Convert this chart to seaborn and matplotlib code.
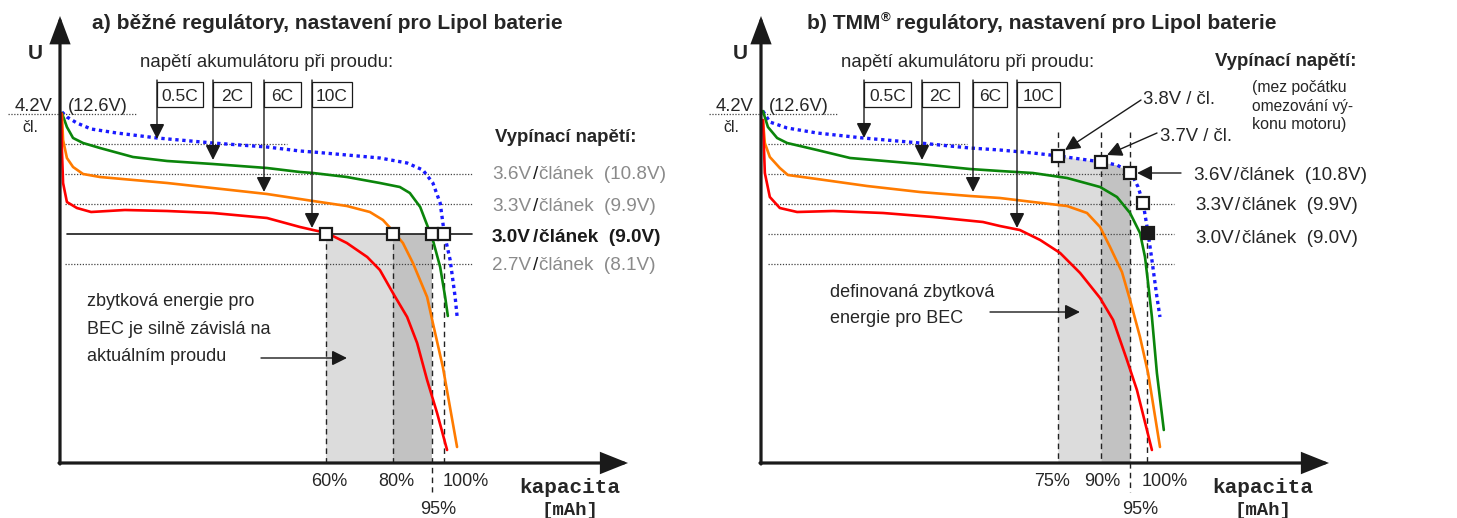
import numpy as np
import pandas as pd
import seaborn as sns
import matplotlib
matplotlib.use("Agg")
import matplotlib.pyplot as plt
from matplotlib import font_manager
from matplotlib.patches import Rectangle

# ------------------------------------------------------------------ data
# discharge curves: capacity [% of nominal] and voltage per cell [V]
rates = ["0.5C", "2C", "6C", "10C"]
rate_colors = ["#1a1aff", "#0b850b", "#ff7b00", "#ff0000"]

# panel a) common regulators
a_cap_05C = [0.5, 1.8, 4.4, 8.1, 14.8, 25.3, 39.8, 53.9, 62.5, 65.9, 74.7, 83.3, 90.4, 94.5, 97.1, 99.0, 100.1, 101.6, 102.9, 103.4]
a_u_05C = [4.22, 4.17, 4.11, 4.05, 4.01, 3.96, 3.91, 3.87, 3.83, 3.82, 3.79, 3.76, 3.71, 3.64, 3.51, 3.31, 3.00, 2.74, 2.37, 2.18]
a_cap_2C = [0.5, 1.8, 3.4, 6.0, 10.4, 19.0, 27.9, 39.8, 53.9, 62.5, 65.9, 74.7, 83.3, 88.5, 91.1, 93.8, 95.8, 97.1, 99.0, 100.3, 101.0]
a_u_2C = [4.21, 4.07, 3.96, 3.91, 3.86, 3.77, 3.73, 3.70, 3.66, 3.62, 3.61, 3.57, 3.51, 3.47, 3.41, 3.27, 3.07, 2.94, 2.67, 2.37, 2.18]
a_cap_6C = [0.5, 0.8, 1.8, 3.4, 6.0, 10.4, 27.9, 53.9, 62.5, 65.9, 74.7, 80.7, 84.1, 86.7, 89.3, 91.9, 95.6, 97.1, 99.7, 103.4]
a_u_6C = [4.20, 3.94, 3.76, 3.67, 3.60, 3.57, 3.51, 3.40, 3.35, 3.33, 3.28, 3.22, 3.14, 3.03, 2.91, 2.71, 2.37, 2.11, 1.67, 0.87]
a_cap_10C = [0.3, 0.5, 0.8, 1.8, 4.4, 8.1, 16.9, 27.9, 39.8, 53.9, 62.5, 65.9, 69.5, 74.7, 80.0, 83.3, 86.7, 90.4, 93.0, 95.6, 98.2, 100.8]
a_u_10C = [4.21, 3.84, 3.51, 3.32, 3.26, 3.22, 3.24, 3.23, 3.21, 3.16, 3.07, 3.04, 3.01, 2.91, 2.77, 2.64, 2.41, 2.17, 1.91, 1.54, 1.21, 0.84]

# panel b) TMM regulators
b_cap_05C = [0.5, 2.3, 6.8, 14.6, 26.6, 41.4, 54.4, 62.2, 70.8, 77.6, 83.1, 88.8, 92.7, 96.4, 98.2, 99.5, 100.8, 101.8, 103.1, 103.9]
b_u_05C = [4.23, 4.12, 4.06, 4.01, 3.96, 3.91, 3.86, 3.84, 3.81, 3.78, 3.75, 3.72, 3.69, 3.61, 3.47, 3.31, 3.01, 2.74, 2.37, 2.17]
b_cap_2C = [0.5, 1.8, 4.2, 6.8, 14.6, 23.2, 41.4, 54.4, 62.2, 70.8, 79.7, 88.3, 92.7, 96.1, 98.7, 100.0, 100.8, 101.8, 103.1, 104.9]
b_u_2C = [4.23, 4.07, 3.96, 3.91, 3.84, 3.76, 3.70, 3.65, 3.63, 3.61, 3.56, 3.47, 3.37, 3.21, 3.01, 2.77, 2.51, 2.17, 1.61, 1.04]
b_cap_6C = [0.5, 1.0, 2.3, 4.9, 7.0, 14.6, 27.6, 41.4, 54.4, 62.2, 70.8, 79.7, 84.9, 88.3, 90.9, 94.0, 96.1, 98.7, 100.8, 103.9]
b_u_6C = [4.14, 3.91, 3.77, 3.66, 3.59, 3.55, 3.48, 3.42, 3.38, 3.36, 3.32, 3.28, 3.21, 3.07, 2.87, 2.62, 2.34, 1.97, 1.61, 0.87]
b_cap_10C = [0.5, 1.0, 2.3, 4.9, 9.4, 18.8, 31.8, 44.8, 57.8, 62.2, 67.4, 72.7, 77.9, 83.1, 88.3, 91.7, 95.3, 97.9, 101.8]
b_u_10C = [4.14, 3.61, 3.37, 3.26, 3.22, 3.23, 3.21, 3.17, 3.12, 3.08, 3.04, 2.94, 2.81, 2.61, 2.36, 2.14, 1.74, 1.44, 0.84]

# remaining capacity at cut-off
a_cut_u = 3.0
a_cut_cap = [69.2, 86.6, 96.9, 100.1]
a_cut_labels = ["60%", "80%", "95%", "100%"]
b_cut_cap = [77.3, 88.5, 96.1, 100.5]
b_cut_labels = ["75%", "90%", "95%", "100%"]
b_mark_cap = [77.3, 88.5, 96.1, 99.5, 100.8]
b_mark_u = [3.78, 3.72, 3.61, 3.31, 3.01]
b_mark_filled = [False, False, False, False, True]

cell_levels = ["3.6V", "3.3V", "3.0V", "2.7V"]
pack_levels = ["(10.8V)", "(9.9V)", "(9.0V)", "(8.1V)"]
guide_u = [3.9, 3.6, 3.3, 3.0, 2.7]

# ------------------------------------------------------------------ setup
sns.set_theme(style="white")
SANS = "Liberation Sans"
MONO = "Liberation Mono"
plt.rcParams["font.family"] = [SANS, "DejaVu Sans"]

W, H = 1457, 518
fig = plt.figure(figsize=(W / 100, H / 100), dpi=100)
fig.patch.set_facecolor("white")
renderer = fig.canvas.get_renderer()

PXU = 3.84                       # pixels per 1 % of capacity


def vy(py):
    return 3.0 + (234.0 - py) / 100.0


def make_axes(left_px, right_px, x0):
    ax = fig.add_axes([left_px / W, 0, (right_px - left_px) / W, 1])
    ax.set_xlim((left_px - x0) / PXU, (right_px - x0) / PXU)
    ax.set_ylim(vy(H), vy(0))
    ax.axis("off")
    ax.patch.set_alpha(0)
    return ax


def put(pieces, x, y, size=12.0, fit=None, ha="left"):
    """place text pieces side by side, y is the visual centre of capitals (px)"""
    objs = []
    for s, kw in pieces:
        kw = dict(kw)
        rel = kw.pop("rel", 1.0)
        dy = kw.pop("dy", 0.0)
        gap = kw.pop("gap", 0.0)
        t = fig.text(0, 0, s, va="baseline", ha="left", **kw)
        objs.append((t, rel, dy, gap))

    def layout(sz):
        for t, rel, _, _ in objs:
            t.set_fontsize(sz * rel)
        ws = [t.get_window_extent(renderer).width for t, _, _, _ in objs]
        return ws, sum(ws) + sum(o[3] for o in objs[1:])

    ws, total = layout(size)
    if fit:
        size = size * fit / total
        ws, total = layout(size)
    x0 = x if ha == "left" else (x - total / 2 if ha == "center" else x - total)
    base = y + 0.358 * size * 100 / 72
    cx = x0
    for i, ((t, rel, dy, gap), w) in enumerate(zip(objs, ws)):
        if i > 0:
            cx += gap
        t.set_position((cx / W, 1 - (base - dy) / H))
        cx += w
    return size


def txt(s, x, y, size=12.0, fit=None, ha="left", **kw):
    return put([(s, kw)], x, y, size, fit, ha)


def arrow(ax, x0, p_from, p_to, ms=23, lw=1.0, hl=0.4, hw=0.2):
    ax.annotate("", xy=((p_to[0] - x0) / PXU, vy(p_to[1])),
                xytext=((p_from[0] - x0) / PXU, vy(p_from[1])),
                arrowprops=dict(arrowstyle=f"-|>,head_length={hl},head_width={hw}",
                                mutation_scale=ms, lw=lw, color="k",
                                shrinkA=0, shrinkB=0, joinstyle="miter"),
                annotation_clip=False, zorder=6)


def hline(ax, x0, u, px_l, px_r, **kw):
    ax.plot([(px_l - x0) / PXU, (px_r - x0) / PXU], [u, u], **kw)


DOT = dict(color="#444444", lw=0.9, ls=(0, (1, 1.3)), zorder=2)
DASH = dict(color="#222222", lw=1.0, ls=(0, (4, 3)), zorder=2)
BOTTOM = vy(463)
NOTE = 13.0          # size of the explanatory notes and % labels


def curves(ax, caps, us):
    for i, (c, u) in enumerate(zip(caps, us)):
        df = pd.DataFrame({"cap": c, "u": u})
        if i == 0:
            sns.lineplot(data=df, x="cap", y="u", ax=ax, sort=False, estimator=None,
                         color=rate_colors[i], lw=2.4, ls=(0, (1, 1.1)),
                         dash_capstyle="butt", zorder=4)
        else:
            sns.lineplot(data=df, x="cap", y="u", ax=ax, sort=False, estimator=None,
                         color=rate_colors[i], lw=1.9, zorder=4)
    ax.set_xlabel("")
    ax.set_ylabel("")


def common(ax, x0, box_px, tips_py, u_px):
    arrow(ax, x0, (x0, 464), (x0, 16), ms=20, lw=2.3, hl=0.8, hw=0.3)
    arrow(ax, x0, (x0 - 1, 463), (x0 + 568, 463), ms=20, lw=2.3, hl=0.8, hw=0.32)
    txt("U", u_px, 52, 15, fit=15, weight="bold")
    txt("napětí akumulátoru při proudu:", x0 + 80, 60, 12, fit=255)
    txt("4.2V", x0 - 45, 104, 12, fit=38)
    txt("(12.6V)", x0 + 8, 104, 12, fit=60)
    txt("čl.", x0 - 38, 126, 12, fit=16)
    hline(ax, x0, 4.2, x0 - 52, x0 + 77, **DOT)
    for lab, (l, r), tip in zip(rates, box_px, tips_py):
        arrow(ax, x0, (l, 80), (l, tip))
        ax.add_patch(Rectangle(((l - x0) / PXU, vy(107)), (r - l) / PXU, 0.25,
                               fc="white", ec="k", lw=0.9, zorder=7))
        txt(lab, (l + r) / 2, 94.5, 12.5, ha="center")


# ------------------------------------------------------------------ titles
tsize = put([("b) TMM", dict(weight="bold")),
             ("®", dict(weight="bold", rel=0.62, dy=8, gap=0.5)),
             ("regulátory, nastavení pro Lipol baterie", dict(weight="bold", gap=5))],
            807, 21, 14, fit=471)
put([("a) běžné regulátory, nastavení pro Lipol baterie", dict(weight="bold"))], 92, 21, tsize)

# ================================================================ panel a
xa = 60
axA = make_axes(0, 700, xa)
a_caps = [a_cap_05C, a_cap_2C, a_cap_6C, a_cap_10C]
a_us = [a_u_05C, a_u_2C, a_u_6C, a_u_10C]

axA.fill_between([a_cut_cap[0], a_cut_cap[1]], BOTTOM, a_cut_u, color="#dcdcdc", lw=0, zorder=1)
axA.fill_between([a_cut_cap[1], a_cut_cap[2]], BOTTOM, a_cut_u, color="#c2c2c2", lw=0, zorder=1)
for c, lab in zip(a_cut_cap, a_cut_labels):
    low = vy(492) if lab == "95%" else BOTTOM
    axA.plot([c, c], [a_cut_u, low], **DASH)

hline(axA, xa, guide_u[0], 65, 287, **DOT)
for u in guide_u[1:]:
    if u == a_cut_u:
        hline(axA, xa, u, 67, 472, color="k", lw=1.2, zorder=2)
    else:
        hline(axA, xa, u, 65, 472, **DOT)

curves(axA, a_caps, a_us)
for c in a_cut_cap:
    axA.plot([c], [a_cut_u], marker="s", ms=8, mfc="white", mec="k", mew=1.6, zorder=8)

common(axA, xa, [(157, 203), (213, 251), (264, 301), (312, 352)], [139, 160, 192, 228], 28)

txt("Vypínací napětí:", 495, 135, 12, fit=142, weight="bold")
GREY = "#8a8a8a"
for cl, pk, y, r in zip(cell_levels, pack_levels, [172, 204, 235, 263], [666, 657, 660, 656]):
    if cl == "3.0V":
        kw = dict(color="k", weight="bold")
        kws = dict(color="k", weight="bold")
    else:
        kw = dict(color=GREY)
        kws = dict(color="k")
    put([(cl, kw), ("/", dict(kws, gap=1.5)), ("článek  " + pk, dict(kw, gap=1.5))], 492, y, 12, fit=r - 492)

for s, y in zip(["zbytková energie pro", "BEC je silně závislá na", "aktuálním proudu"], [300, 328, 355]):
    txt(s, 87, y, NOTE)
arrow(axA, xa, (261, 358), (347, 358))

for c, lab in zip(a_cut_cap, a_cut_labels):
    px = xa + c * PXU
    if lab == "95%":
        txt(lab, px + 6, 508, NOTE, ha="center")
    elif lab == "100%":
        txt(lab, px + 21, 480, NOTE, ha="center")
    else:
        txt(lab, px + 4, 480, NOTE, ha="center")
txt("kapacita", 570, 485, 15, fit=101, ha="center", family=MONO, weight="bold")
txt("[mAh]", 570, 508, 15, fit=57, ha="center", family=MONO, weight="bold")

# ================================================================ panel b
xb = 761
axB = make_axes(700, W, xb)
b_caps = [b_cap_05C, b_cap_2C, b_cap_6C, b_cap_10C]
b_us = [b_u_05C, b_u_2C, b_u_6C, b_u_10C]

for (c0, c1), col in zip([(b_cut_cap[0], b_cut_cap[1]), (b_cut_cap[1], b_cut_cap[2])], ["#dcdcdc", "#c2c2c2"]):
    xs = np.linspace(c0, c1, 40)
    axB.fill_between(xs, BOTTOM, np.interp(xs, b_cap_05C, b_u_05C), color=col, lw=0, zorder=1)
for c, lab in zip(b_cut_cap, b_cut_labels):
    top = b_mark_u[-1] if lab == "100%" else vy(132)
    low = vy(492) if lab == "95%" else BOTTOM
    axB.plot([c, c], [top, low], **DASH)

hline(axB, xb, guide_u[0], 768, 967, **DOT)
hline(axB, xb, guide_u[1], 768, 1125, **DOT)
for u in guide_u[2:]:
    hline(axB, xb, u, 768, 1174, **DOT)

curves(axB, b_caps, b_us)
for c, u, f in zip(b_mark_cap, b_mark_u, b_mark_filled):
    axB.plot([c], [u], marker="s", ms=8 if not f else 8.5, mfc="k" if f else "white",
             mec="k", mew=1.6, zorder=8)

common(axB, xb, [(864, 911), (922, 959), (973, 1007), (1017, 1060)], [138, 160, 192, 228], 733)

txt("Vypínací napětí:", 1215, 59, 12, fit=142, weight="bold")
for s, y, r in zip(["(mez počátku", "omezování vý-", "konu motoru)"], [86, 105, 123], [1347, 1354, 1347]):
    txt(s, 1252, y, 10.5, fit=r - 1252)
txt("3.8V / čl.", 1143, 97, 12, fit=72)
txt("3.7V / čl.", 1160, 134, 12, fit=72)
arrow(axB, xb, (1141, 100), (1065, 150))
arrow(axB, xb, (1157, 133), (1107, 155))
arrow(axB, xb, (1181, 173), (1137, 173))
for cl, pk, y, l, r in zip(cell_levels[:3], pack_levels[:3], [173, 203, 236], [1193, 1195, 1195], [1367, 1358, 1358]):
    put([(cl, {}), ("/", dict(gap=1.5)), ("článek  " + pk, dict(gap=1.5))], l, y, 12, fit=r - l)

txt("definovaná zbytková", 830, 291, NOTE)
txt("energie pro BEC", 830, 317, NOTE)
arrow(axB, xb, (990, 312), (1080, 312))

for c, lab in zip(b_cut_cap, b_cut_labels):
    px = xb + c * PXU
    if lab == "95%":
        txt(lab, px + 10, 508, NOTE, ha="center")
    elif lab == "100%":
        txt(lab, px + 18, 480, NOTE, ha="center")
    else:
        off = -6 if lab == "75%" else 1
        txt(lab, px + off, 480, NOTE, ha="center")
txt("kapacita", 1263, 485, 15, fit=101, ha="center", family=MONO, weight="bold")
txt("[mAh]", 1263, 508, 15, fit=57, ha="center", family=MONO, weight="bold")

fig.savefig("out.png", dpi=100, facecolor="white")
